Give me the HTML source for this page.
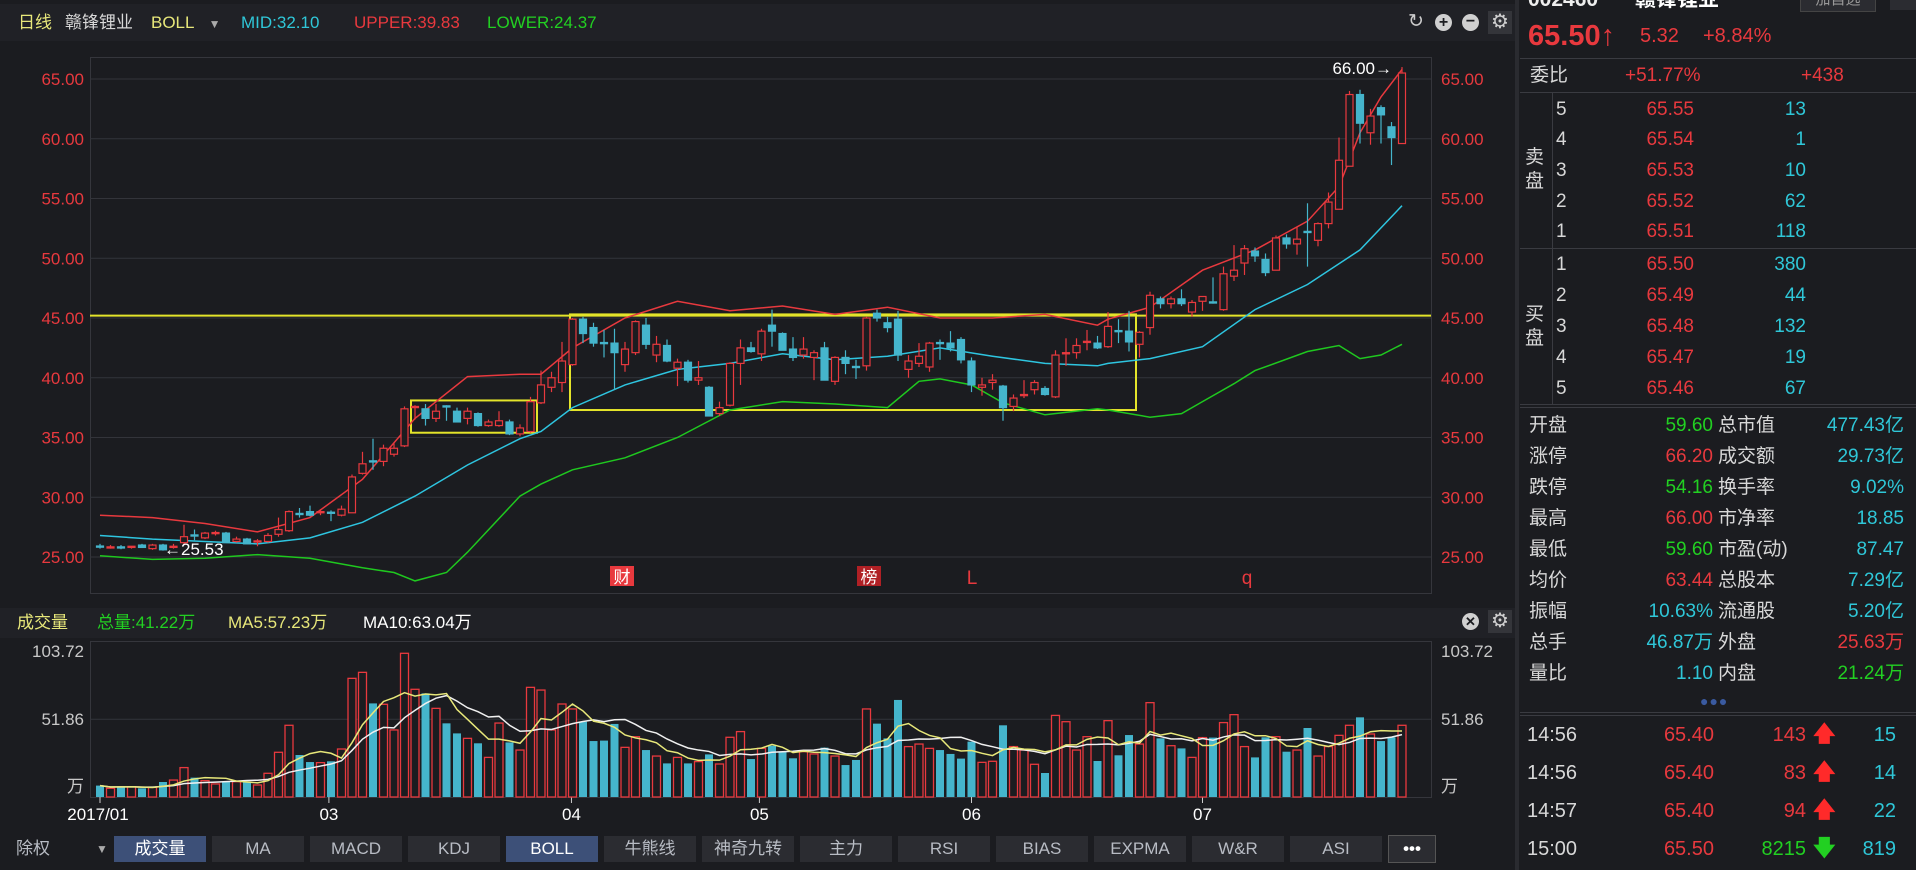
<!DOCTYPE html>
<html><head><meta charset="utf-8">
<style>
body{margin:0;width:1916px;height:870px;background:#1b1c20;overflow:hidden;font-family:"Liberation Sans","Noto Sans CJK SC",sans-serif;position:relative}
.t{position:absolute;white-space:nowrap;line-height:1}
.r{text-align:right}
.red{color:#e8393e}.cy{color:#2fc7d8}.gr{color:#22d022}.wh{color:#d8d8d8}.ye{color:#e7e77a}
.tab{position:absolute;top:836px;height:26px;width:92px;background:#2b2c31;color:#b8bcc4;font-size:17px;line-height:26px;text-align:center}
.hl{position:absolute;height:1px;background:#3a3b41}
</style></head><body>
<div style="position:absolute;left:0;top:4px;width:1516px;height:37px;background:#202126"></div>
<div class="t" style="left:18px;top:14px;font-size:17px;color:#e7e77a">日线</div>
<div class="t wh" style="left:65px;top:14px;font-size:17px">赣锋锂业</div>
<div class="t ye" style="left:151px;top:14px;font-size:17px">BOLL <span style="color:#aaa;font-size:12px;margin-left:10px">▼</span></div>
<div class="t cy" style="left:241px;top:14px;font-size:17px">MID:32.10</div>
<div class="t red" style="left:354px;top:14px;font-size:17px">UPPER:39.83</div>
<div class="t gr" style="left:487px;top:14px;font-size:17px">LOWER:24.37</div>
<div class="t" style="left:1408px;top:12px;font-size:19px;color:#ccc">↻</div>
<div class="t" style="left:1435px;top:14px;width:17px;height:17px;border-radius:50%;background:#d0d0d0;color:#1b1c20;font-size:16px;text-align:center;line-height:17px;font-weight:bold">+</div>
<div class="t" style="left:1462px;top:14px;width:17px;height:17px;border-radius:50%;background:#d0d0d0;color:#1b1c20;font-size:16px;text-align:center;line-height:16px;font-weight:bold">−</div>
<div class="t" style="left:1488px;top:11px;width:24px;height:23px;background:#34353a;color:#d0d0d0;font-size:20px;text-align:center;line-height:23px">⚙</div>

<div style="position:absolute;left:0;top:608px;width:1516px;height:30px;background:#202126"></div>
<div class="t" style="left:17px;top:614px;font-size:17px;color:#e7e77a">成交量</div>
<div class="t gr" style="left:97px;top:614px;font-size:17px">总量:41.22万</div>
<div class="t ye" style="left:228px;top:614px;font-size:17px">MA5:57.23万</div>
<div class="t" style="left:363px;top:614px;font-size:17px;color:#fff">MA10:63.04万</div>
<div class="t" style="left:1462px;top:613px;width:17px;height:17px;border-radius:50%;background:#d0d0d0;color:#1b1c20;font-size:13px;text-align:center;line-height:17px;font-weight:bold">✕</div>
<div class="t" style="left:1488px;top:610px;width:24px;height:23px;background:#34353a;color:#d0d0d0;font-size:20px;text-align:center;line-height:23px">⚙</div>

<svg id="chart" width="1516" height="870" style="position:absolute;left:0;top:0" font-family="Liberation Sans, Noto Sans CJK SC, sans-serif"></svg>

<div class="t" style="left:16px;top:840px;font-size:17px;color:#b8bcc4">除权</div>
<div class="t" style="left:96px;top:843px;font-size:12px;color:#aaa">▼</div>
<div id="tabs"></div>

<!-- right panel -->
<div style="position:absolute;left:1515px;top:0;width:4px;height:870px;background:#2a2b30"></div>
<div class="t" style="left:1528px;top:-11px;font-size:21px;color:#eee;font-weight:bold">002460</div>
<div class="t" style="left:1635px;top:-11px;font-size:21px;color:#fff;font-weight:bold">赣锋锂业</div>
<div class="t" style="left:1800px;top:-12px;width:74px;height:22px;background:#2b2c31;border:1px solid #444;color:#999;font-size:15px;text-align:center;line-height:22px">加自选</div>
<div class="t" style="left:1890px;top:-12px;width:26px;height:22px;background:#2b2c31"></div>
<div class="t red" style="left:1528px;top:22px;font-size:29px;font-weight:bold">65.50<span style="font-weight:normal">↑</span></div>
<div class="t red" style="left:1640px;top:26px;font-size:20px">5.32</div>
<div class="t red" style="left:1703px;top:26px;font-size:20px">+8.84%</div>
<div class="hl" style="left:1520px;top:58px;width:396px"></div>
<div class="t wh" style="left:1530px;top:66px;font-size:19px">委比</div>
<div class="t red" style="left:1625px;top:66px;font-size:19px">+51.77%</div>
<div class="t red" style="left:1801px;top:66px;font-size:19px">+438</div>
<div class="hl" style="left:1520px;top:92px;width:396px"></div>
<div style="position:absolute;left:1552px;top:93px;width:1px;height:312px;background:#3a3b41"></div>
<div class="t wh" style="left:1525px;top:146px;font-size:19px;line-height:24px;width:22px">卖<br>盘</div>
<div class="hl" style="left:1520px;top:248px;width:396px"></div>
<div class="t wh" style="left:1525px;top:303px;font-size:19px;line-height:24px;width:22px">买<br>盘</div>
<div class="hl" style="left:1520px;top:404px;width:396px"></div>
<div class="hl" style="left:1520px;top:407px;width:396px"></div>
<div id="book"></div>
<div id="stats"></div>
<div class="t" style="left:1700px;top:694px;font-size:14px;color:#3a5aa0;letter-spacing:1px">●●●</div>
<div class="hl" style="left:1520px;top:712px;width:396px"></div>
<div class="hl" style="left:1520px;top:715px;width:396px"></div>
<div id="trades"></div>

<script>
const NS='http://www.w3.org/2000/svg';
const svg=document.getElementById('chart');
// ---- data ----
const opens=[25.92,25.8,25.85,25.85,26.0,25.7,26.0,25.85,26.2,26.85,26.6,27.0,27.0,26.3,26.5,26.3,26.3,26.9,27.2,28.65,28.8,28.75,28.75,28.5,28.7,32.0,33.05,33.0,33.6,34.3,37.5,37.4,36.6,37.65,37.2,36.6,37.0,36.0,36.0,36.3,35.3,35.5,37.9,39.2,39.6,41.1,44.9,44.2,42.95,42.9,41.1,42.1,44.4,41.9,42.7,40.8,41.3,39.8,39.2,37.0,37.7,41.2,42.5,42.0,44.4,43.7,42.4,41.9,41.7,42.5,39.7,41.7,40.95,41.0,45.4,44.6,44.9,40.7,41.2,40.9,42.95,42.9,43.2,41.4,39.2,39.6,39.3,37.6,38.55,39.0,39.1,38.4,42.05,42.1,43.0,42.9,42.6,43.95,43.9,42.8,44.2,46.6,46.2,46.6,45.5,46.4,46.35,45.7,48.5,49.6,50.6,49.9,49.0,51.7,51.2,52.25,51.5,52.9,54.1,57.7,63.7,60.5,62.6,61.0,59.6];
const highs=[26.1,26.0,26.0,25.9,26.1,26.1,26.1,26.1,27.7,27.3,27.1,27.2,27.1,26.7,26.6,26.5,27.0,28.3,28.9,29.1,29.3,29.0,28.9,29.3,31.9,33.8,34.9,34.4,34.5,37.6,37.7,37.8,37.8,37.7,37.5,37.5,37.1,36.5,37.2,36.5,36.1,38.4,40.6,40.5,43.0,45.0,45.1,44.6,44.0,44.1,43.0,44.8,45.0,43.5,43.2,41.6,41.5,41.4,39.3,38.0,41.3,43.2,43.0,44.1,45.7,43.8,43.4,43.4,42.3,43.0,41.8,42.3,41.5,45.1,45.7,45.1,45.6,41.9,42.9,43.0,43.2,43.9,43.4,41.7,40.0,40.3,39.4,38.6,39.8,39.8,39.3,42.3,43.3,43.3,44.0,43.5,45.5,44.9,45.6,43.9,47.2,46.8,46.8,47.4,46.5,46.8,48.4,49.3,51.1,51.1,50.9,50.4,51.9,52.0,52.6,54.6,53.0,55.5,60.1,64.0,64.1,62.5,62.8,61.4,66.0];
const lows=[25.7,25.7,25.65,25.7,25.75,25.6,25.53,25.7,26.0,26.4,26.5,26.8,26.2,26.2,26.1,25.9,26.2,26.7,27.1,28.3,28.4,28.5,28.0,28.4,28.7,31.9,32.3,32.6,33.4,34.2,36.5,36.0,36.3,36.4,36.3,36.1,35.9,35.9,35.9,35.2,35.1,35.4,37.8,38.8,38.8,41.0,42.9,42.6,41.7,39.0,40.5,41.9,42.4,41.3,41.3,39.3,39.6,39.4,36.8,36.8,37.6,39.4,42.1,41.4,42.6,42.3,41.4,41.6,39.8,39.8,39.4,40.3,39.9,40.6,44.7,43.8,41.4,40.0,40.9,40.5,41.5,42.2,41.2,38.8,38.5,39.0,36.4,37.2,38.3,38.6,38.5,38.3,41.0,41.6,42.3,42.4,42.5,42.9,42.2,41.7,43.6,45.8,45.8,46.0,45.1,45.6,46.2,45.6,48.1,48.6,49.7,48.5,49.0,50.8,50.3,49.3,51.0,52.5,54.1,57.7,59.6,59.5,59.6,57.8,59.6];
const closes=[25.9,25.85,25.8,25.9,25.8,26.0,25.6,25.9,26.7,26.8,27.0,27.05,26.2,26.5,26.1,26.35,26.8,27.3,28.8,28.6,28.5,28.8,28.7,29.0,31.7,32.8,33.0,34.1,34.1,37.4,37.6,36.6,37.2,37.6,36.3,37.2,36.0,36.3,36.4,35.3,35.8,38.0,39.4,40.0,41.4,44.9,43.7,42.9,42.9,42.1,42.4,44.7,42.8,42.8,41.4,41.3,39.8,40.0,36.8,37.5,41.2,42.5,42.2,43.9,43.9,42.3,41.7,42.4,42.1,39.8,41.7,41.2,40.9,45.0,45.0,44.2,41.9,41.4,41.8,42.9,42.9,42.5,41.5,39.4,39.4,39.8,37.5,38.3,38.6,39.6,38.6,41.9,42.1,42.7,43.05,42.5,44.3,43.9,43.0,43.8,46.9,46.2,46.6,46.2,46.3,46.8,46.3,48.7,49.0,50.8,50.2,48.8,51.7,51.2,51.6,52.2,52.9,54.7,58.2,63.7,61.3,61.9,62.0,60.1,65.5];
const volumes=[7.6,5.8,6.9,6.9,5.8,6.4,10.0,11.3,19.6,12.9,10.9,8.7,10.2,10.2,10.2,8.0,15.8,29.8,47.8,28.0,23.3,22.9,23.8,32.0,79.1,83.1,62.4,61.8,44.7,95.8,71.8,69.1,59.1,49.1,42.4,39.1,35.8,26.4,49.3,36.4,31.3,73.1,71.3,44.7,62.0,58.7,50.2,37.3,37.6,48.7,33.1,40.2,31.3,27.3,22.4,26.4,22.4,23.6,28.4,22.0,39.8,43.6,25.3,32.4,34.2,30.2,25.8,30.2,28.7,32.9,27.3,21.3,24.7,58.7,48.9,39.1,64.7,33.6,35.3,32.4,31.3,28.7,25.6,36.9,23.1,23.8,47.8,33.6,31.3,21.8,16.0,54.4,50.2,31.3,40.2,24.0,50.9,27.8,41.3,35.3,62.9,39.1,34.2,32.4,26.4,39.6,39.6,49.6,54.9,33.6,26.4,39.8,40.2,30.2,31.3,46.0,27.3,33.6,41.1,47.8,53.1,42.0,37.3,39.8,47.8];
const midIdx=[0,5,10,15,20,25,30,35,40,42,45,50,55,60,65,70,75,80,85,90,95,96,100,105,110,115,120,124];
const midVals=[26.8,26.5,26.3,26.1,26.6,27.9,30.1,32.7,34.9,35.5,37.5,39.4,40.7,41.2,42.0,41.5,41.8,42.5,41.8,41.2,41.0,41.2,41.6,42.6,45.7,47.8,50.7,54.4];
const upIdx=[0,5,10,15,20,25,30,35,40,42,45,50,55,60,65,70,75,80,85,90,95,96,100,105,110,115,118,120,122,124];
const upVals=[28.5,28.3,27.8,27.1,28.3,31.5,36.6,40.1,40.3,40.3,42.5,45.0,46.4,45.6,46.0,45.3,45.9,45.0,45.0,45.3,44.4,44.9,45.9,49.0,50.7,53.1,56.0,60.5,63.5,65.8];
const lowIdx=[0,5,10,15,20,25,28,30,33,35,40,42,45,50,55,60,65,70,75,78,80,83,86,90,95,96,100,103,105,108,110,115,118,120,122,124];
const lowVals=[25.1,24.8,24.9,25.2,24.9,24.1,23.7,23.0,23.7,25.4,30.1,31.1,32.3,33.3,35.0,37.3,38.0,37.8,37.5,39.7,39.9,39.4,37.9,36.9,37.4,37.3,36.7,37.0,38.0,39.5,40.6,42.2,42.7,41.6,41.9,42.8];
const priceTicks=[25,30,35,40,45,50,55,60,65];
const volTicks=[103.72,51.86];
const monthLabels=['2017/01','03','04','05','06','07'];
const monthIdx=[0,21.8,44.9,62.8,83,105];
// ---- axes ----
const X0=100,DX=10.5;
const xAt=i=>X0+DX*i;
const yP=p=>79+(65-p)*11.95;
const yV=v=>797-v*1.5;
function el(tag,attrs,parent){const e=document.createElementNS(NS,tag);for(const k in attrs)e.setAttribute(k,attrs[k]);(parent||svg).appendChild(e);return e;}
const RED='#e8393e',CY='#45b5cc',GRN='#1fc81f',YEL='#e4e42a';
// frames
let e;
e=el('rect',{x:90.5,y:57.5,width:1341,height:536,fill:'none',stroke:'#35363c'});


e=el('rect',{x:90.5,y:641.5,width:1341,height:156,fill:'none',stroke:'#35363c'});


priceTicks.forEach(p=>{
  const g=el('line',{x1:90,x2:1431,y1:yP(p),y2:yP(p),stroke:'#33343a'});
  
  
  const l=el('text',{x:84,y:yP(p)+6,'text-anchor':'end',fill:RED,'font-size':17});
  l.textContent=p.toFixed(2);
  
  
  const r=el('text',{x:1441,y:yP(p)+6,fill:RED,'font-size':17});
  r.textContent=p.toFixed(2);
  
  
});
e=el('line',{x1:90,x2:1431,y1:yV(51.86),y2:yV(51.86),stroke:'#33343a'});


volTicks.forEach((v,k)=>{
  const yy=k===0?657:yV(v)+6;
  const l=el('text',{x:84,y:yy,'text-anchor':'end',fill:'#c8c8c8','font-size':17});
  l.textContent=v.toFixed(2);
  
  
  const r=el('text',{x:1441,y:yy,fill:'#c8c8c8','font-size':17});
  r.textContent=v.toFixed(2);
  
  
});
[[66,'end'],[1441,'start']].forEach(([xx,a])=>{const u=el('text',{x:xx+(a==='end'?18:0),y:792,'text-anchor':a,fill:'#c8c8c8','font-size':17});u.textContent='万';

});
monthLabels.forEach((m,k)=>{
  const xx=xAt(monthIdx[k]);
  const t=el('line',{x1:xx,x2:xx,y1:797,y2:803,stroke:'#ccc'});
  
  
  const l=el('text',{x:k===0?xx-2:xx,y:820,'text-anchor':'middle',fill:'#fff','font-size':17});
  l.textContent=m;
  
  
});
// annotations (yellow)
e=el('line',{x1:90,x2:1431,y1:yP(45.2),y2:yP(45.2),stroke:YEL,'stroke-width':2});


e=el('rect',{x:411,y:yP(38.1),width:126,height:yP(35.4)-yP(38.1),fill:'none',stroke:YEL,'stroke-width':2});


e=el('rect',{x:570,y:yP(45.3),width:566,height:yP(37.3)-yP(45.3),fill:'none',stroke:YEL,'stroke-width':2});


// bands
function band(idx,vals,color,name){
  const pts=idx.map((i,k)=>xAt(i).toFixed(1)+','+yP(vals[k]).toFixed(1)).join(' ');
  const p=el('polyline',{points:pts,fill:'none',stroke:color,'stroke-width':1.5});
  
  
}
band(lowIdx,lowVals,GRN,'boll-lower-line');
band(midIdx,midVals,'#2ec5e0','boll-mid-line');
band(upIdx,upVals,RED,'boll-upper-line');
// candles + volume
const vmaPts5=[],vmaPts10=[];
closes.forEach((c,i)=>{
  const o=opens[i],up=c>=o,col=up?RED:CY,x=xAt(i);
  const w=el('line',{x1:x,x2:x,y1:yP(highs[i]),y2:yP(lows[i]),stroke:col,'stroke-width':1.2});
  
  
  const top=yP(Math.max(o,c)),bh=Math.max(1.2,Math.abs(yP(o)-yP(c)));
  const b=el('rect',{x:x-3.5,y:top,width:7,height:bh,fill:up?'#1b1c20':CY,stroke:col,'stroke-width':1.2});
  
  
  const v=volumes[i];
  const vb=el('rect',{x:x-4,y:yV(v),width:8,height:797-yV(v),fill:up?'#1b1c20':CY,stroke:up?RED:'none','stroke-width':1.3});
  
  
  const w5=volumes.slice(Math.max(0,i-4),i+1),w10=volumes.slice(Math.max(0,i-9),i+1);
  vmaPts5.push(x+','+yV(w5.reduce((a,b)=>a+b,0)/w5.length));
  vmaPts10.push(x+','+yV(w10.reduce((a,b)=>a+b,0)/w10.length));
});
e=el('polyline',{points:vmaPts10.join(' '),fill:'none',stroke:'#f0f0f0','stroke-width':1.5});


e=el('polyline',{points:vmaPts5.join(' '),fill:'none',stroke:'#e8e87a','stroke-width':1.5});


// price annotations
e=el('text',{x:1392,y:74,'text-anchor':'end',fill:'#fff','font-size':17});
e.textContent='66.00→';


e=el('text',{x:164,y:555,fill:'#fff','font-size':17});
e.textContent='←25.53';


// event markers
const markers=[['财',610,'#e8393e'],['榜',857,'#b02025']];
markers.forEach(([t,xx,bg])=>{
  const r=el('rect',{x:xx,y:566,width:24,height:20,fill:bg});
  
  
  const tx=el('text',{x:xx+12,y:583,'text-anchor':'middle',fill:'#fff','font-size':17});
  tx.textContent=t;
  
  
});
[['L',972],['q',1247]].forEach(([t,xx])=>{
  const tx=el('text',{x:xx,y:584,'text-anchor':'middle',fill:RED,'font-size':19});
  tx.textContent=t;
  
  
});
// tabs
const tabs=['成交量','MA','MACD','KDJ','BOLL','牛熊线','神奇九转','主力','RSI','BIAS','EXPMA','W&R','ASI'];
const tabsEl=document.getElementById('tabs');
tabs.forEach((t,k)=>{
  const d=document.createElement('div');
  d.className='tab';
  d.style.left=(114+k*98)+'px';
  if(k===0||k===4){d.style.background='#3d5078';d.style.color='#fff';}
  d.textContent=t;
  
  
  tabsEl.appendChild(d);
});
const more=document.createElement('div');
more.className='tab';
more.style.cssText='left:1388px;width:46px;border:1px solid #555;top:835px;color:#fff;font-weight:bold';
more.textContent='•••';


tabsEl.appendChild(more);
// order book
const book=document.getElementById('book');
const bookRows=[['5','65.55','13',110],['4','65.54','1',140],['3','65.53','10',171],['2','65.52','62',202],['1','65.51','118',232],
['1','65.50','380',265],['2','65.49','44',296],['3','65.48','132',327],['4','65.47','19',358],['5','65.46','67',389]];
bookRows.forEach(([lv,p,v,y])=>{
  const row=document.createElement('div');
  
  
  row.innerHTML=`<div class="t wh" style="left:1556px;top:${y-10}px;font-size:19px">${lv}</div><div class="t red r" style="left:1600px;width:94px;top:${y-10}px;font-size:19px">${p}</div><div class="t cy r" style="left:1720px;width:86px;top:${y-10}px;font-size:19px">${v}</div>`;
  book.appendChild(row);
});
// stats
const stats=[['开盘','59.60','gr','总市值','477.43亿'],['涨停','66.20','red','成交额','29.73亿'],['跌停','54.16','gr','换手率','9.02%'],['最高','66.00','red','市净率','18.85'],['最低','59.60','gr','市盈(动)','87.47'],['均价','63.44','red','总股本','7.29亿'],['振幅','10.63%','cy','流通股','5.20亿'],['总手','46.87万','cy','外盘','25.63万'],['量比','1.10','cy','内盘','21.24万']];
const c2=['cy','cy','cy','cy','cy','cy','cy','red','gr'];
const st=document.getElementById('stats');
stats.forEach((s,k)=>{
  const y=426+k*31-10;
  const row=document.createElement('div');
  
  
  row.innerHTML=`<div class="t wh" style="left:1529px;top:${y}px;font-size:19px">${s[0]}</div><div class="t ${s[2]} r" style="left:1600px;width:113px;top:${y}px;font-size:19px">${s[1]}</div><div class="t wh" style="left:1718px;top:${y}px;font-size:19px">${s[3]}</div><div class="t ${c2[k]} r" style="left:1800px;width:104px;top:${y}px;font-size:19px">${s[4]}</div>`;
  st.appendChild(row);
});
// trades
const trades=[['14:56','65.40','143','up','15'],['14:56','65.40','83','up','14'],['14:57','65.40','94','up','22'],['15:00','65.50','8215','dn','819']];
const tr=document.getElementById('trades');
trades.forEach((t,k)=>{
  const y=736+k*38-11;
  const up=t[3]==='up';
  const row=document.createElement('div');
  
  
  row.innerHTML=`<div class="t wh" style="left:1527px;top:${y}px;font-size:20px">${t[0]}</div><div class="t red r" style="left:1620px;width:94px;top:${y}px;font-size:20px">${t[1]}</div><div class="t ${up?'red':'gr'} r" style="left:1720px;width:86px;top:${y}px;font-size:20px">${t[2]}</div><div class="t" style="left:1813px;top:${y-2}px;font-size:22px;font-weight:bold;color:${up?'#ff2a2a':'#22d022'}">${up?'🡅':'🡇'}</div><div class="t cy r" style="left:1850px;width:46px;top:${y}px;font-size:20px">${t[4]}</div>`;
  tr.appendChild(row);
});
</script>
</body></html>
